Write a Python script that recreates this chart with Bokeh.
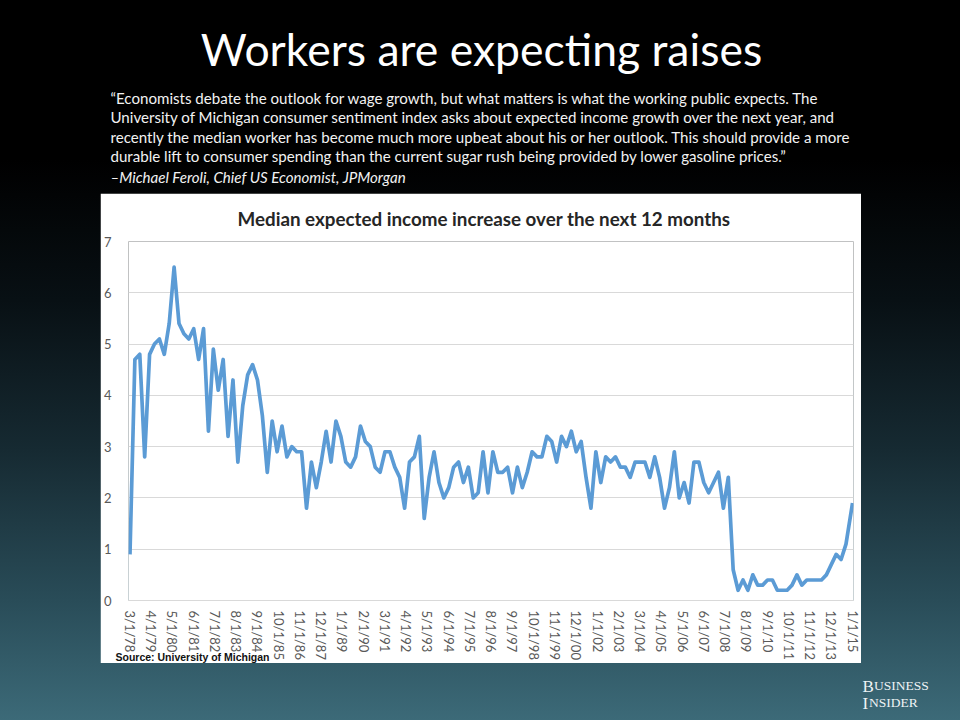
import numpy as np
import pandas as pd
from bokeh.plotting import figure
from bokeh.layouts import column, row
from bokeh.models import Range1d, FixedTicker, ColumnDataSource, Spacer, Title
from bokeh.core.properties import value
from bokeh.embed import file_html
from bokeh.resources import INLINE

# ---------------- data ----------------
TITLE = "Workers are expecting raises"
QUOTE_LINES = [
    "\u201cEconomists debate the outlook for wage growth, but what matters is what the working public expects. The",
    "University of Michigan consumer sentiment index asks about expected income growth over the next year, and",
    "recently the median worker has become much more upbeat about his or her outlook. This should provide a more",
    "durable lift to consumer spending than the current sugar rush being provided by lower gasoline prices.\u201d",
]
ATTRIBUTION = "\u2013Michael Feroli, Chief US Economist, JPMorgan"
CHART_TITLE = "Median expected income increase over the next 12 months"
SOURCE = "Source: University of Michigan"
LOGO_WORDS = ["BUSINESS", "INSIDER"]

FIRST_DATE = "1978-03-01"
LAST_DATE = "2015-01-01"
VALUES = [
    0.9, 4.7, 4.8, 2.8, 4.8, 5.0, 5.1, 4.8, 5.4, 6.5,
    5.4, 5.2, 5.1, 5.3, 4.7, 5.3, 3.3, 4.9, 4.1, 4.7,
    3.2, 4.3, 2.7, 3.8, 4.4, 4.6, 4.3, 3.6, 2.5, 3.5,
    2.9, 3.4, 2.8, 3.0, 2.9, 2.9, 1.8, 2.7, 2.2, 2.7,
    3.3, 2.7, 3.5, 3.2, 2.7, 2.6, 2.8, 3.4, 3.1, 3.0,
    2.6, 2.5, 2.9, 2.9, 2.6, 2.4, 1.8, 2.7, 2.8, 3.2,
    1.6, 2.4, 2.9, 2.3, 2.0, 2.2, 2.6, 2.7, 2.3, 2.6,
    2.0, 2.1, 2.9, 2.1, 2.9, 2.5, 2.5, 2.6, 2.1, 2.6,
    2.2, 2.5, 2.9, 2.8, 2.8, 3.2, 3.1, 2.7, 3.2, 3.0,
    3.3, 2.9, 3.1, 2.4, 1.8, 2.9, 2.3, 2.8, 2.7, 2.8,
    2.6, 2.6, 2.4, 2.7, 2.7, 2.7, 2.4, 2.8, 2.4, 1.8,
    2.2, 2.9, 2.0, 2.3, 1.9, 2.7, 2.7, 2.3, 2.1, 2.3,
    2.5, 1.8, 2.4, 0.6, 0.2, 0.4, 0.2, 0.5, 0.3, 0.3,
    0.4, 0.4, 0.2, 0.2, 0.2, 0.3, 0.5, 0.3, 0.4, 0.4,
    0.4, 0.4, 0.5, 0.7, 0.9, 0.8, 1.1, 1.9,
]
TICK_LABELS = [
    "3/1/78", "4/1/79", "5/1/80", "6/1/81", "7/1/82", "8/1/83", "9/1/84",
    "10/1/85", "11/1/86", "12/1/87", "1/1/89", "2/1/90", "3/1/91", "4/1/92",
    "5/1/93", "6/1/94", "7/1/95", "8/1/96", "9/1/97", "10/1/98", "11/1/99",
    "12/1/00", "1/1/02", "2/1/03", "3/1/04", "4/1/05", "5/1/06", "6/1/07",
    "7/1/08", "8/1/09", "9/1/10", "10/1/11", "11/1/12", "12/1/13", "1/1/15",
]
Y_TICKS = [0, 1, 2, 3, 4, 5, 6, 7]

# ---------------- helpers ----------------
W, H = 960, 720
BACKGROUND = ("linear-gradient(to bottom, rgb(0,0,0) 0px, rgb(0,0,0) 160px, "
              "rgb(8,16,20) 300px, rgb(22,42,50) 450px, rgb(41,76,88) 600px, "
              "rgb(60,106,120) 720px)")

dates = list(pd.date_range(FIRST_DATE, periods=len(VALUES) - 1, freq="3MS")) + [pd.Timestamp(LAST_DATE)]
base = pd.Timestamp(FIRST_DATE)
xs = [(d.year - base.year) * 12 + (d.month - base.month) for d in dates]


def label_to_month(lbl):
    m, d, yy = (int(v) for v in lbl.split("/"))
    year = 1900 + yy if yy >= 50 else 2000 + yy
    return (year - base.year) * 12 + (m - base.month)


tick_pos = [label_to_month(l) for l in TICK_LABELS]


def overlay_fig(y0, y1):
    f = figure(width=W, height=y1 - y0, x_range=Range1d(0, W),
               y_range=Range1d(H - y1, H - y0), toolbar_location=None,
               output_backend="svg", min_border=0)
    f.axis.visible = False
    f.grid.visible = False
    f.outline_line_color = None
    f.background_fill_alpha = 0
    f.border_fill_alpha = 0
    return f


# ---------------- header ----------------
top = overlay_fig(0, 193)
top.text(x=[481], y=[H - 48], text=[TITLE], text_font=value("Lato"),
         text_font_size="44.5px", text_color="white", text_align="center",
         text_baseline="middle")
q_y = [97, 116.5, 136, 155.5]
top.text(x=[110] * len(QUOTE_LINES), y=[H - v for v in q_y], text=QUOTE_LINES,
         text_font=value("Lato"), text_font_size="15.1px", text_color="#f2f2f2",
         text_align="left", text_baseline="middle")
top.text(x=[110], y=[H - 176], text=[ATTRIBUTION], text_font=value("Lato"),
         text_font_size="15.1px", text_font_style="italic", text_color="#f2f2f2",
         text_align="left", text_baseline="middle")

# ---------------- chart ----------------
p = figure(width=761, height=470, x_range=Range1d(-0.9, 442.6), y_range=Range1d(0, 7),
           toolbar_location=None, output_backend="svg",
           min_border_left=26, min_border_right=8, min_border_top=48, min_border_bottom=63)
p.background_fill_color = "white"
p.border_fill_color = "white"
p.outline_line_color = None

src = ColumnDataSource(dict(x=xs, y=VALUES))
p.line("x", "y", source=src, line_color="#5B9BD5", line_width=3.7, line_join="round")

p.title.text = CHART_TITLE
p.title.align = "left"
p.title.text_font = "Lato"
p.title.text_font_style = "bold"
p.title.text_font_size = "18.8px"
p.title.text_color = "#262626"
p.title.offset = 109
p.title.standoff = 23

p.xgrid.visible = False
p.ygrid.grid_line_color = "#d9d9d9"
p.ygrid.grid_line_width = 1.2

p.yaxis.ticker = FixedTicker(ticks=Y_TICKS)
p.yaxis.axis_line_color = None
p.yaxis.major_tick_line_color = None
p.yaxis.minor_tick_line_color = None
p.yaxis.major_label_text_font = "Lato"
p.yaxis.major_label_text_font_size = "13px"
p.yaxis.major_label_text_color = "#595959"
p.yaxis.major_label_standoff = 11

p.xaxis.ticker = FixedTicker(ticks=tick_pos)
p.xaxis.major_label_overrides = {t: l for t, l in zip(tick_pos, TICK_LABELS)}
p.xaxis.major_label_orientation = "vertical"
p.xaxis.axis_line_color = "#d9d9d9"
p.xaxis.major_tick_line_color = None
p.xaxis.minor_tick_line_color = None
p.xaxis.major_label_text_font = "Lato"
p.xaxis.major_label_text_font_size = "13px"
p.xaxis.major_label_text_color = "#595959"
p.xaxis.major_label_standoff = 4

p.add_layout(Title(text=SOURCE, align="left", offset=-13, standoff=-24,
                   vertical_align="top",
                   text_font="Liberation Sans", text_font_style="bold",
                   text_font_size="10.5px", text_color="#111111"), "below")

left = Spacer(width=100, height=470)
right = Spacer(width=99, height=470)

# ---------------- footer (small-caps style logo) ----------------
bottom = overlay_fig(663, 720)
logo_y = [686, 703]
bottom.text(x=[862, 862], y=[H - v for v in logo_y], text=[w[0] for w in LOGO_WORDS],
            text_font=value("Liberation Serif"), text_font_size="17px",
            text_color="#eef3f5", text_align="left", text_baseline="middle")
bottom.text(x=[873.5, 868.5], y=[H - v + 0.8 for v in logo_y], text=[w[1:] for w in LOGO_WORDS],
            text_font=value("Liberation Serif"), text_font_size="13.5px",
            text_color="#eef3f5", text_align="left", text_baseline="middle")

layout = column(top, row(left, p, right, spacing=0), bottom, spacing=0,
                styles={"background": BACKGROUND})

open("out.html", "w").write(file_html(layout, INLINE))
